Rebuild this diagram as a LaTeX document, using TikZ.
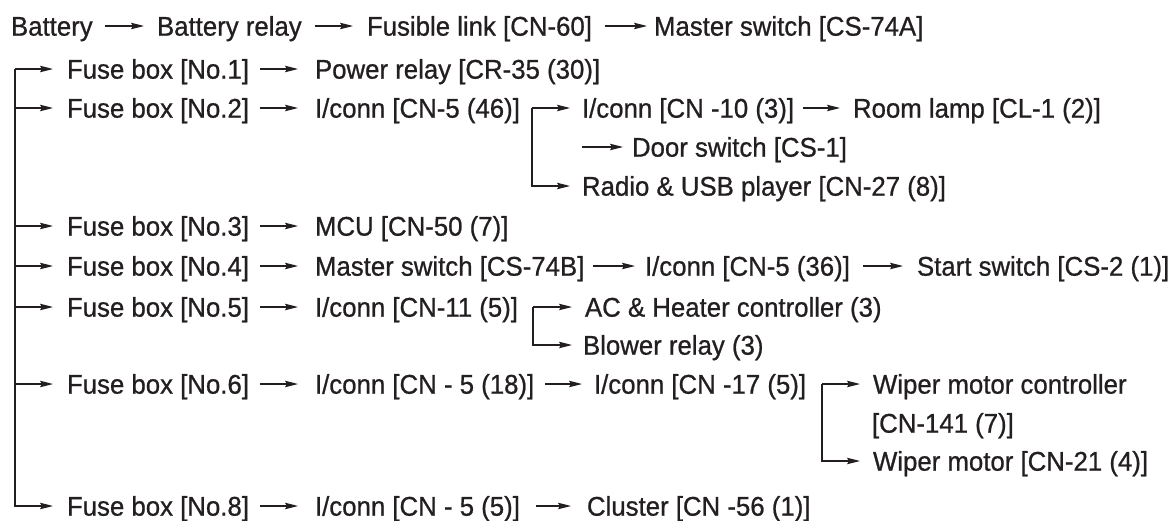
\documentclass[tikz,border=0pt]{standalone}
\usepackage{fontspec}
\setmainfont[FakeStretch=0.955,FakeBold=0.8]{Liberation Sans}
\usetikzlibrary{arrows.meta}
\definecolor{ink}{RGB}{35,31,32}
\begin{document}
\begin{tikzpicture}[x=1pt,y=-1pt,
  lbl/.style={anchor=west, inner sep=0pt, outer sep=0pt, text height=19.3pt, text depth=0pt, text=ink, font=\fontsize{27}{31}\selectfont},
  arr/.style={draw=ink, line width=1.2pt, -{Stealth[length=13pt,width=6.5pt,inset=2pt]}},
  fbarr/.style={arr, shorten <=11pt, shorten >=17pt},
]
\useasboundingbox (0,0) rectangle (1176,520);
% row 1
\node[lbl] (bat)  at (11,26)  {Battery};
\node[lbl] (brel) at (157,26) {Battery relay};
\node[lbl] (fus)  at (367,26) {Fusible link [CN-60]};
\node[lbl] (msa)  at (654,26) {Master switch [CS-74A]};
% row 2
\node[lbl] (f1) at (67,69)  {Fuse box [No.1]};
\node[lbl] (pr) at (315,69) {Power relay [CR-35 (30)]};
% row 3
\node[lbl] (f2)   at (67,108)  {Fuse box [No.2]};
\node[lbl] (c546) at (315,108) {I/conn [CN-5 (46)]};
\node[lbl] (c10)  at (582,108) {I/conn [CN -10 (3)]};
\node[lbl] (room) at (853,108) {Room lamp [CL-1 (2)]};
% row 4
\node[lbl] (door) at (632,147) {Door switch [CS-1]};
% row 5
\node[lbl] (radio) at (582,186) {Radio \& USB player [CN-27 (8)]};
% row 6
\node[lbl] (f3)  at (67,226)  {Fuse box [No.3]};
\node[lbl] (mcu) at (315,226) {MCU [CN-50 (7)]};
% row 7
\node[lbl] (f4)    at (67,266)  {Fuse box [No.4]};
\node[lbl] (msb)   at (315,266) {Master switch [CS-74B]};
\node[lbl] (c536)  at (645,266) {I/conn [CN-5 (36)]};
\node[lbl] (start) at (917,266) {Start switch [CS-2 (1)]};
% row 8
\node[lbl] (f5)  at (67,307)  {Fuse box [No.5]};
\node[lbl] (c11) at (315,307) {I/conn [CN-11 (5)]};
\node[lbl] (ac)  at (585,307) {AC \& Heater controller (3)};
% row 9
\node[lbl] (blow) at (583,345) {Blower relay (3)};
% row 10
\node[lbl] (f6)   at (67,384)  {Fuse box [No.6]};
\node[lbl] (c518) at (315,384) {I/conn [CN - 5 (18)]};
\node[lbl] (c17)  at (594,384) {I/conn [CN -17 (5)]};
\node[lbl] (wmc)  at (873,384) {Wiper motor controller};
% row 11
\node[lbl] (wmc2) at (872,423) {[CN-141 (7)]};
% row 12
\node[lbl] (wm) at (873,461) {Wiper motor [CN-21 (4)]};
% row 13
\node[lbl] (f8)   at (67,506)  {Fuse box [No.8]};
\node[lbl] (c55)  at (315,506) {I/conn [CN - 5 (5)]};
\node[lbl] (clus) at (587,506) {Cluster [CN -56 (1)]};

% junction coordinates
\coordinate (tr) at (15,69);
\coordinate (b2) at (532,108);
\coordinate (ds) at (582,147);
\coordinate (b5) at (533,307);
\coordinate (b6) at (822,384);

% row 1 arrows
\draw[arr, shorten <=12pt, shorten >=13pt] (bat.east) -- (brel.west);
\draw[arr, shorten <=13pt, shorten >=14pt] (brel.east) -- (fus.west);
\draw[arr, shorten <=13pt, shorten >=7pt] (fus.east) -- (msa.west);

% trunk branches
\foreach \f in {f1,f2,f3,f4,f5,f6,f8}
  \draw[arr, shorten >=14pt] (tr) |- (\f.west);

% fuse box arrows
\draw[fbarr] (f1.east) -- (pr.west);
\draw[fbarr] (f2.east) -- (c546.west);
\draw[fbarr] (f3.east) -- (mcu.west);
\draw[fbarr] (f4.east) -- (msb.west);
\draw[fbarr] (f5.east) -- (c11.west);
\draw[fbarr] (f6.east) -- (c518.west);
\draw[fbarr] (f8.east) -- (c55.west);

% row 3 branch
\draw[arr, shorten >=12pt] (b2) |- (c10.west);
\draw[arr, shorten >=12pt] (b2) |- (radio.west);
\draw[arr, shorten <=9pt, shorten >=13pt] (c10.east) -- (room.west);
\draw[arr, shorten >=9pt] (ds) -- (door.west);

% row 7
\draw[arr, shorten <=9pt, shorten >=10pt] (msb.east) -- (c536.west);
\draw[arr, shorten <=13pt, shorten >=14pt] (c536.east) -- (start.west);

% row 8 branch
\draw[arr, shorten >=13pt] (b5) |- (ac.west);
\draw[arr, shorten >=11pt] (b5) |- (blow.west);

% row 10
\draw[arr, shorten <=11pt, shorten >=12pt] (c518.east) -- (c17.west);
\draw[arr, shorten >=13pt] (b6) |- (wmc.west);
\draw[arr, shorten >=13pt] (b6) |- (wm.west);

% row 13
\draw[arr, shorten <=16pt, shorten >=16pt] (c55.east) -- (clus.west);
\end{tikzpicture}
\end{document}
